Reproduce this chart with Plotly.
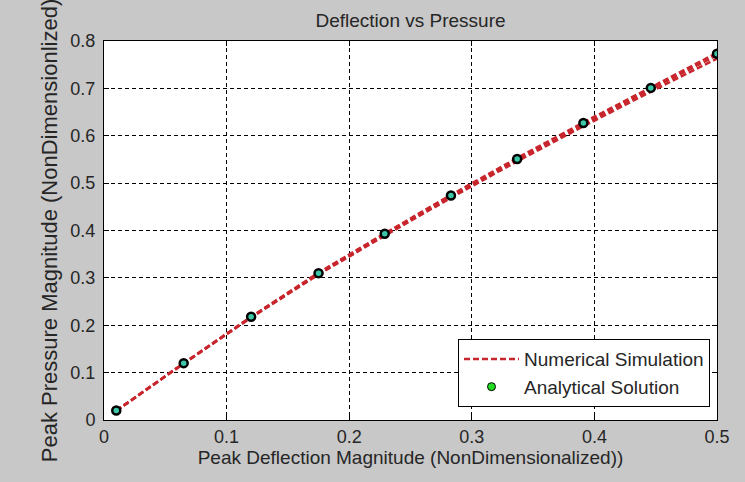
import plotly.graph_objects as go

# Data
deflection = [0.010, 0.065, 0.120, 0.175, 0.229, 0.283, 0.337, 0.391, 0.446, 0.500]
analytical = [0.020, 0.120, 0.218, 0.310, 0.393, 0.474, 0.551, 0.627, 0.701, 0.773]
numerical_a = [0.020, 0.120, 0.218, 0.311, 0.394, 0.475, 0.553, 0.628, 0.702, 0.775]
numerical_b = [0.0195, 0.1195, 0.217, 0.3095, 0.392, 0.472, 0.550, 0.624, 0.698, 0.770]
numerical_c = [0.019, 0.119, 0.216, 0.307, 0.389, 0.469, 0.546, 0.620, 0.693, 0.763]
x_ticks = [0, 0.1, 0.2, 0.3, 0.4, 0.5]
y_ticks = [0, 0.1, 0.2, 0.3, 0.4, 0.5, 0.6, 0.7, 0.8]

FONT = "Liberation Sans, Arial, sans-serif"
RED = "#c8252c"
TXT = "#262626"

fig = go.Figure()
for i, ys in enumerate([numerical_c, numerical_b, numerical_a]):
    fig.add_trace(go.Scatter(
        x=deflection, y=ys, mode="lines",
        name="Numerical Simulation",
        showlegend=(i == 2),
        line=dict(color=RED, width=2.5, dash="6px,3px"),
    ))
fig.add_trace(go.Scatter(
    x=deflection, y=analytical, mode="markers",
    name="Analytical Solution", showlegend=False,
    marker=dict(color="#3cc8a8", size=8, symbol="circle",
                line=dict(color="black", width=2.5)),
))
fig.add_trace(go.Scatter(
    x=[None], y=[None], mode="markers",
    name="Analytical Solution",
    marker=dict(color="#22dd22", size=8, line=dict(color="black", width=1)),
))

axis_common = dict(
    showline=True, linecolor="black", linewidth=1, mirror="ticks",
    ticks="inside", ticklen=5, tickcolor="black", tickwidth=1,
    showgrid=True, gridcolor="black", gridwidth=1, griddash="4px,3px",
    zeroline=False,
    tickfont=dict(family=FONT, size=18, color=TXT),
)

fig.update_layout(
    width=745, height=482,
    margin=dict(l=104, r=28, t=41, b=62),
    paper_bgcolor="#c8c8c8", plot_bgcolor="white",
    title=dict(text="Deflection vs Pressure", x=0.551, xanchor="center",
               y=1 - 20 / 482, yanchor="middle",
               font=dict(family=FONT, size=19, color=TXT)),
    xaxis=dict(range=[0, 0.5], tickvals=x_ticks,
               ticktext=[f"{v:g}" for v in x_ticks],
               title=dict(text="Peak Deflection Magnitude (NonDimensionalized))",
                          font=dict(family=FONT, size=19, color=TXT),
                          standoff=2),
               **axis_common),
    yaxis=dict(range=[0, 0.8], tickvals=y_ticks,
               ticktext=[f"{v:g}" for v in y_ticks],
               ticklabelstandoff=4,
               title=dict(text="Peak Pressure Magnitude (NonDimensionlized)",
                          font=dict(family=FONT, size=22, color=TXT),
                          standoff=6),
               **axis_common),
    legend=dict(x=0.9886, xanchor="right", y=0.034, yanchor="bottom",
                bgcolor="white", bordercolor="black", borderwidth=1,
                font=dict(family=FONT, size=19, color=TXT),
                itemwidth=55, tracegroupgap=0),
    showlegend=True,
)

fig.write_html("out.html")
